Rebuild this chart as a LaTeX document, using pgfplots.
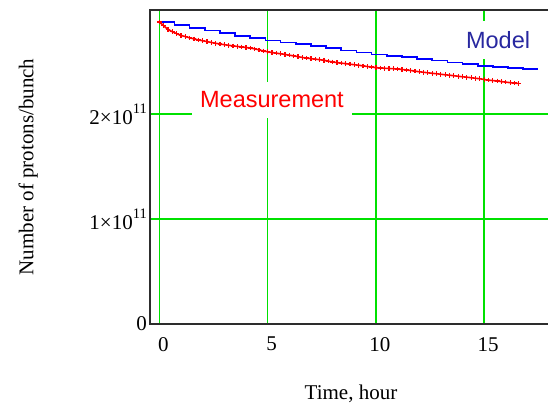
\documentclass[border=0pt]{standalone}
\usepackage{pgfplots}
\pgfplotsset{compat=1.18}
\usepackage{fontspec}
\setmainfont{Liberation Serif}
\newfontfamily\arial{Liberation Sans}
\definecolor{gridgreen}{RGB}{0,225,0}
\definecolor{modelnavy}{RGB}{40,40,160}
\definecolor{axisgray}{RGB}{45,45,45}
\newcommand{\sci}[1]{#1×10\raisebox{11pt}{\fontsize{14.5}{14.5}\selectfont 11}}
\begin{document}
\begin{tikzpicture}
\useasboundingbox (0,0) rectangle (548pt,406pt);
\begin{axis}[
  at={(150pt,82pt)}, anchor=south west,
  scale only axis,
  width=402pt, height=314pt,
  xmin=-0.43, xmax=18.13,
  ymin=0, ymax=2.99,
  xtick={0,5,10,15}, xticklabels={0,5,10,15},
  ytick={0,1,2}, yticklabels={0,\sci{1},\sci{2}},
  major tick length=0pt,
  grid=major,
  major grid style={gridgreen, line width=1.6pt},
  axis line style={axisgray, line width=1.5pt},
  tick label style={font=\fontsize{21}{25}\selectfont, inner sep=0pt},
  xticklabel style={anchor=north, yshift=-13pt, xshift=4pt},
  yticklabel style={anchor=east, xshift=-3pt},
  label style={font=\fontsize{21}{25}\selectfont, inner sep=0pt},
  xlabel={Time, hour},
  xlabel style={at={(axis description cs:0.5,-0.1927)}, anchor=north},
  ylabel={Number of protons/bunch},
  ylabel style={at={(axis description cs:-0.2786,0.5)}, anchor=south},
]
% model, x10^11
\addplot[const plot, blue, line width=1.7pt] coordinates {
(0,2.876) (0.7,2.845) (1.4,2.82) (2.1,2.795) (2.8,2.77) (3.5,2.745)
(4.2,2.72) (4.9,2.70) (5.6,2.68) (6.3,2.665) (7.0,2.645) (7.7,2.625)
(8.4,2.605) (9.1,2.585) (9.8,2.566) (10.5,2.553) (11.2,2.54) (11.9,2.525)
(12.6,2.508) (13.3,2.49) (14.0,2.474) (14.7,2.46) (15.4,2.447) (16.1,2.435)
(16.8,2.425) (17.5,2.425)
};
% measurement, x10^11
\addplot[red, line width=1.6pt, mark=+, mark size=2.3pt, mark options={line width=1.2pt}] coordinates {
(0.0,2.876) (0.2,2.84) (0.4,2.805) (0.6,2.783) (0.8,2.765) (1.0,2.748)
(1.2,2.737) (1.4,2.725) (1.6,2.715) (1.8,2.705) (2.0,2.697) (2.2,2.689)
(2.4,2.681) (2.6,2.673) (2.8,2.666) (3.0,2.660) (3.2,2.654) (3.4,2.648)
(3.6,2.643) (3.8,2.638) (4.0,2.633) (4.2,2.628) (4.4,2.620) (4.6,2.610)
(4.8,2.600) (5.0,2.592) (5.2,2.585) (5.4,2.579) (5.6,2.573) (5.8,2.567)
(6.0,2.560) (6.2,2.553) (6.4,2.546) (6.6,2.538) (6.8,2.532) (7.0,2.527)
(7.2,2.522) (7.4,2.517) (7.6,2.511) (7.8,2.503) (8.0,2.495) (8.2,2.489)
(8.4,2.484) (8.6,2.479) (8.8,2.474) (9.0,2.469) (9.2,2.464) (9.4,2.458)
(9.6,2.452) (9.8,2.447) (10.0,2.441) (10.2,2.438) (10.4,2.435) (10.6,2.433)
(10.8,2.431) (11.0,2.428) (11.2,2.424) (11.4,2.419) (11.6,2.414) (11.8,2.408)
(12.0,2.402) (12.2,2.397) (12.4,2.392) (12.6,2.387) (12.8,2.383) (13.0,2.378)
(13.2,2.373) (13.4,2.369) (13.6,2.364) (13.8,2.359) (14.0,2.354) (14.2,2.350)
(14.4,2.345) (14.6,2.340) (14.8,2.335) (15.0,2.328) (15.2,2.322) (15.4,2.318)
(15.6,2.314) (15.8,2.308) (16.0,2.303) (16.2,2.298) (16.4,2.294) (16.6,2.290)
};
\node[fill=white, minimum width=160pt, minimum height=36pt, inner sep=0pt,
  text=red, font=\arial\fontsize{23.5}{26}\selectfont] at (axis cs:5.2,2.133) {Measurement};
\node[fill=white, minimum width=70pt, minimum height=38pt, inner sep=0pt,
  text=modelnavy, font=\arial\fontsize{23.5}{26}\selectfont] at (axis cs:15.64,2.70) {Model};
\end{axis}
\end{tikzpicture}
\end{document}
